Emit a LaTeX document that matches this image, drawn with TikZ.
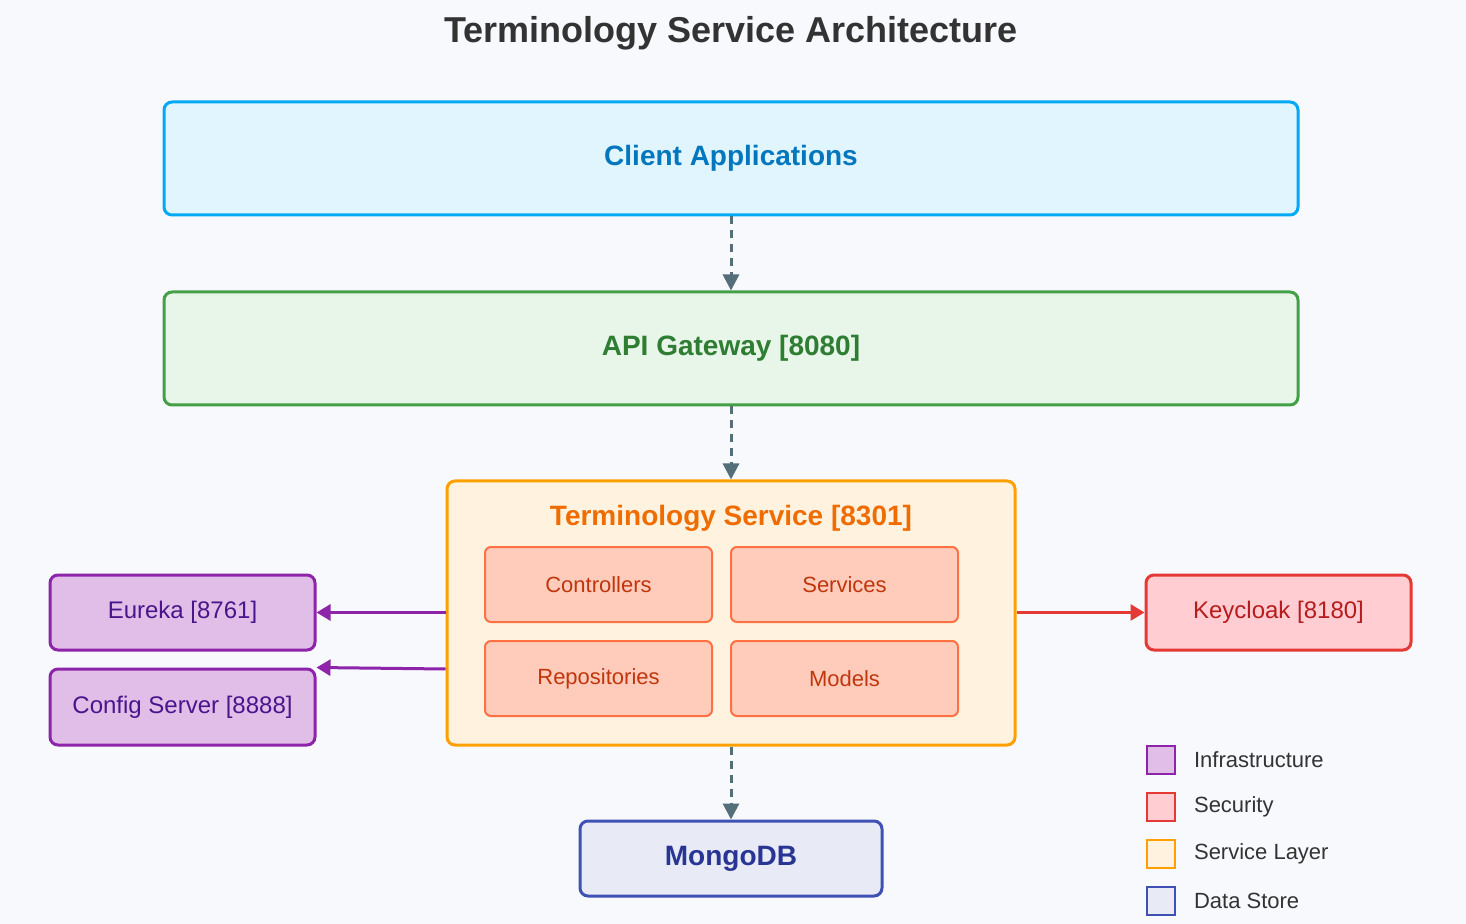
\documentclass[tikz,border=0pt]{standalone}
\usepackage{fontspec}
\setmainfont{Liberation Sans}
\usetikzlibrary{arrows.meta}
\definecolor{bg}{HTML}{F7F9FC}
\definecolor{arr}{HTML}{546E7A}
\definecolor{cS}{HTML}{03A9F4}\definecolor{cF}{HTML}{E1F5FE}\definecolor{cT}{HTML}{0277BD}
\definecolor{gS}{HTML}{43A047}\definecolor{gF}{HTML}{E8F5E9}\definecolor{gT}{HTML}{2E7D32}
\definecolor{oS}{HTML}{FFA000}\definecolor{oF}{HTML}{FFF3E0}\definecolor{oT}{HTML}{EF6C00}
\definecolor{iS}{HTML}{FF7043}\definecolor{iF}{HTML}{FFCCBC}\definecolor{iT}{HTML}{BF360C}
\definecolor{pS}{HTML}{8E24AA}\definecolor{pF}{HTML}{E1BEE7}\definecolor{pT}{HTML}{4A148C}
\definecolor{rS}{HTML}{E53935}\definecolor{rF}{HTML}{FFCDD2}\definecolor{rT}{HTML}{B71C1C}
\definecolor{bS}{HTML}{3F51B5}\definecolor{bF}{HTML}{E8EAF6}\definecolor{bT}{HTML}{283593}
\tikzset{
  box/.style={draw, line width=1.5pt, rounded corners=4pt, inner sep=0pt},
  flow/.style={draw=arr, line width=1.5pt, dash pattern=on 4pt off 3pt, -{Triangle[length=8pt,width=8pt]}},
  side/.style={line width=1.5pt, -{Triangle[length=7pt,width=8pt]}},
  big/.style={font=\bfseries\fontsize{14}{16}\selectfont},
  mid/.style={font=\fontsize{12}{14}\selectfont},
  small/.style={font=\fontsize{11}{13}\selectfont},
  inner/.style={box, line width=1pt, draw=iS, fill=iF, text=iT, small, minimum width=113.5pt, minimum height=37.5pt, rounded corners=3pt},
  leg/.style={draw, line width=1pt, minimum size=14pt, inner sep=0pt},
}
\begin{document}
\begin{tikzpicture}[x=0.5pt,y=-0.5pt]
\fill[bg] (0,0) rectangle (1466,924);
\useasboundingbox (0,0) rectangle (1466,924);
\node[font=\bfseries\fontsize{18}{22}\selectfont, text=black!80] (title) at (731,33) {Terminology Service Architecture};
\node[box, draw=cS, fill=cF, text=cT, big, minimum width=567pt, minimum height=56.5pt] (client) at (731,158.5) {Client Applications};
\node[box, draw=gS, fill=gF, text=gT, big, minimum width=567pt, minimum height=56.5pt] (api) at (731,348.5) {API Gateway [8080]};
\node[box, draw=oS, fill=oF, minimum width=284pt, minimum height=132pt] (ts) at (731,613) {};
\node[text=oT, big] (tst) at (731,518) {Terminology Service [8301]};
\node[inner] (ctl) at (598.5,584.5) {Controllers};
\node[inner] (srv) at (844.5,584.5) {Services};
\node[inner] (rep) at (598.5,678.5) {Repositories};
\node[inner] (mod) at (844.5,678.5) {Models};
\node[box, draw=pS, fill=pF, text=pT, mid, minimum width=132.5pt, minimum height=37.5pt] (eur) at (182.5,612.5) {Eureka [8761]};
\node[box, draw=pS, fill=pF, text=pT, mid, minimum width=132.5pt, minimum height=38pt] (cfg) at (182.5,707) {Config Server [8888]};
\node[box, draw=rS, fill=rF, text=rT, mid, minimum width=132.5pt, minimum height=37.5pt] (kc) at (1278.5,612.5) {Keycloak [8180]};
\node[box, draw=bS, fill=bF, text=bT, big, minimum width=151pt, minimum height=37.5pt] (mdb) at (731,858.5) {MongoDB};
\draw[flow] (client.south) -- (api.north);
\draw[flow] (api.south) -- (ts.north);
\draw[flow] (ts.south) -- (mdb.north);
\draw[side, draw=pS, -{Triangle[length=7pt,width=8pt]}, color=pS] (ts.west |- eur.east) -- (eur.east);
\draw[side, color=pS] (ts.west |- 0,669) -- (cfg.north east);
\draw[side, color=rS] (ts.east |- kc.west) -- (kc.west);
\node[leg, draw=pS, fill=pF] (l1) at (1161,759.5) {};
\node[leg, draw=rS, fill=rF] (l2) at (1161,806.5) {};
\node[leg, draw=oS, fill=oF] (l3) at (1161,853.5) {};
\node[leg, draw=bS, fill=bF] (l4) at (1161,900.5) {};
\node[small, anchor=west, text=black!80] at (1187,759.5) {Infrastructure};
\node[small, anchor=west, text=black!80] at (1187,806.5) {Security};
\node[small, anchor=west, text=black!80] at (1187,853.5) {Service Layer};
\node[small, anchor=west, text=black!80] at (1187,900.5) {Data Store};
\end{tikzpicture}
\end{document}
